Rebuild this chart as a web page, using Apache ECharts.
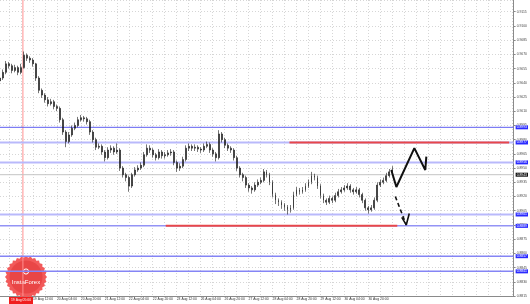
<!DOCTYPE html>
<html><head><meta charset="utf-8">
<script src="https://cdn.jsdelivr.net/npm/echarts@6/dist/echarts.min.js"></script>
<style>html,body{margin:0;padding:0;background:#fff}#c{width:530px;height:304px}</style>
</head><body><div id="c"></div>
<script>
// ---- data (prices in pips: 9045 = 0.9045; time in trading hours from 16 Aug 04:00) ----
const timeLabels = ['16 Aug 04:00','16 Aug 20:00','19 Aug 12:00','20 Aug 04:00','20 Aug 20:00','21 Aug 12:00','22 Aug 04:00','22 Aug 20:00','23 Aug 12:00','26 Aug 04:00','26 Aug 20:00','27 Aug 12:00','28 Aug 04:00','28 Aug 20:00','29 Aug 12:00','30 Aug 04:00','30 Aug 20:00'];
const firstBarHour = 10, barStep = 2;
const opens = [9042,9045,9051,9060,9058,9053,9056,9051,9056,9069, 9066,9064,9060,9045,9032,9027,9022,9018,9020,9015, 9013,9001,8988,8978,8985,8992,8995,9001,9003,9002, 8999,8988,8980,8972,8973,8967,8961,8969,8971,8967, 8969,8950,8943,8940,8931,8943,8948,8950,8953,8964, 8971,8969,8964,8961,8967,8963,8964,8966,8967,8956, 8950,8952,8959,8971,8973,8971,8972,8970,8969,8973, 8975,8969,8965,8961,8986,8980,8974,8971,8969,8961, 8950,8943,8940,8932,8929,8927,8932,8935,8937,8946, 8943,8935,8922,8916,8914,8911,8909,8906,8908,8922, 8927,8925,8927,8931,8935,8942,8940,8931,8921,8916, 8914,8918,8916,8921,8925,8927,8929,8931,8927,8925, 8927,8922,8916,8908,8906,8908,8916,8932,8935,8937,8942,8946];
const closes = [9045,9051,9060,9058,9053,9056,9051,9056,9069,9066, 9064,9060,9045,9032,9027,9022,9018,9020,9015,9013, 9001,8988,8978,8985,8992,8995,9001,9003,9002,8999, 8988,8980,8972,8973,8967,8961,8969,8971,8967,8969, 8950,8943,8940,8931,8943,8948,8950,8953,8964,8971, 8969,8964,8961,8967,8963,8964,8966,8967,8956,8950, 8952,8959,8971,8973,8971,8972,8970,8969,8973,8975, 8969,8965,8961,8986,8980,8974,8971,8969,8961,8950, 8943,8940,8932,8929,8927,8932,8935,8937,8946,8943, 8935,8922,8916,8914,8911,8909,8906,8908,8922,8927, 8925,8927,8931,8935,8942,8940,8931,8921,8916,8914, 8918,8916,8921,8925,8927,8929,8931,8927,8925,8927, 8922,8916,8908,8906,8908,8916,8932,8935,8937,8942,8946,8948];
const highs = [9048,9054,9063,9062,9060,9059,9058,9060,9073,9071, 9068,9066,9061,9047,9034,9029,9025,9023,9022,9017, 9015,9003,8990,8988,8995,8998,9004,9006,9005,9004, 9001,8990,8982,8976,8975,8969,8972,8974,8973,8976, 8971,8952,8945,8942,8945,8951,8953,8956,8967,8975, 8974,8971,8966,8970,8969,8967,8969,8970,8969,8958, 8955,8962,8974,8976,8975,8975,8974,8972,8976,8978, 8977,8971,8967,8990,8988,8982,8976,8973,8971,8963, 8952,8945,8942,8934,8931,8935,8938,8940,8949,8948, 8945,8937,8924,8918,8916,8913,8911,8911,8925,8930, 8929,8930,8934,8938,8946,8944,8942,8933,8923,8918, 8921,8920,8924,8928,8930,8932,8934,8933,8929,8930, 8929,8924,8918,8910,8911,8919,8935,8938,8940,8945,8949,8952];
const lows = [9039,9043,9049,9055,9050,9051,9048,9049,9055,9063, 9061,9057,9042,9029,9024,9019,9015,9016,9012,9010, 8998,8985,8972,8976,8983,8990,8993,8999,8999,8996, 8985,8977,8969,8970,8964,8957,8959,8966,8964,8965, 8947,8940,8936,8925,8929,8941,8946,8948,8951,8962, 8966,8961,8958,8959,8960,8960,8962,8963,8953,8946, 8947,8950,8957,8968,8968,8968,8967,8966,8967,8971, 8966,8962,8957,8959,8977,8971,8968,8966,8958,8947, 8940,8936,8929,8925,8923,8925,8930,8933,8935,8940, 8932,8919,8912,8910,8907,8905,8901,8903,8906,8920, 8922,8923,8925,8929,8933,8937,8928,8918,8913,8911, 8912,8913,8914,8919,8923,8925,8927,8924,8922,8923, 8919,8913,8905,8902,8904,8906,8914,8930,8933,8935,8940,8944];
const levelPrices = [8993, 8977, 8956, 8901, 8889, 8857, 8841];
const currentPrice = 8943;
const redSegments = [[203.3, 350, 8977], [120.7, 275.3, 8889]];
const vLineHour = 25.3;
const vLineLabel = '19 Aug 05:00';
const forecastUp = [[271.3,8948],[274.7,8930],[286.7,8971],[294,8948],[294.7,8962]];
const forecastDown = [[274,8920],[281.3,8890]];
const forecastDownHead = [[278.3,8898],[281.3,8890],[283.3,8902]];
const viewStartHour = 10, viewEndHour = 353;
const priceMin = 8815, priceMax = 9127.35;

// ---- chart ----
const el = document.getElementById('c');
const chart = echarts.init(el, null, {renderer:'canvas'});
const bars = closes.map((c,j)=>[firstBarHour+barStep*j, opens[j], c, lows[j], highs[j]]);
const hourCats = [];
for (let h=viewStartHour; h<=viewEndHour; h++) hourCats.push(String(h));
const fmt = v => (v/10000).toFixed(4);
const FONT = 'Liberation Sans';
const FS = 3.4;
const levelLine = [
  {color:'#5f5ff2', width:1},
  {color:'#b9b9fb', width:2},
  {color:'#b9b9fb', width:2},
  {color:'#b9b9fb', width:2},
  {color:'#9393f5', width:1.5},
  {color:'#8585f5', width:1.5},
  {color:'#8585f5', width:1.5}
];
const boxLabel = (bg) => ({show:true, distance:2, color:'#fff', backgroundColor:bg, fontSize:FS, fontFamily:FONT, padding:[1,1,0,1]});
const levelSeries = levelPrices.map((p,k)=>({
  type:'line', xAxisIndex:0, data:[[viewStartHour,p],[viewEndHour,p]], showSymbol:false, silent:true, z:3,
  lineStyle:{color:levelLine[k].color, width:levelLine[k].width},
  endLabel:Object.assign(boxLabel('#2a2aff'), {formatter:fmt(p)})
}));
levelSeries.push({type:'line', xAxisIndex:0, data:[[viewStartHour,currentPrice],[viewEndHour,currentPrice]], showSymbol:false, silent:true, z:3,
  lineStyle:{color:'#c4c4c4', width:1}, endLabel:Object.assign(boxLabel('#111'), {formatter:fmt(currentPrice)})});
const redSeries = redSegments.map(s=>({type:'line', xAxisIndex:0, data:[[s[0],s[2]],[s[1],s[2]]], showSymbol:false, silent:true, z:4,
  lineStyle:{color:'#e8474a', width:2}}));
const vSeries = {type:'line', xAxisIndex:0, data:[[vLineHour,priceMin],[vLineHour,priceMax]], showSymbol:false, silent:true, z:3,
  lineStyle:{color:'#ff9090', width:1}};

// logo badge polygon (decoration)
const badge = [];
for (let k=0;k<56;k++){ const a=k*Math.PI/28, r=(k%2?19.3:21); badge.push([26+r*Math.cos(a), 277+r*Math.sin(a)]); }

const gridLine = {show:true, lineStyle:{color:'#d6d6d6', type:[1,2], width:1}};
chart.setOption({
  animation:false,
  grid:{left:0, right:15.5, top:0, bottom:8},
  xAxis:[
    {type:'value', min:viewStartHour, max:viewEndHour, show:false, splitLine:{show:false}},
    {type:'category', data:hourCats, boundaryGap:false, position:'bottom',
      axisLine:{show:true, onZero:false, lineStyle:{color:'#8a8a8a', width:1}},
      axisTick:{show:false},
      splitLine:{show:true, interval:(idx,val)=>(+val)%8===0, lineStyle:gridLine.lineStyle},
      axisLabel:{show:true, align:'left', margin:2, fontSize:FS, fontFamily:FONT, color:'#333',
        interval:(idx,val)=>(+val)%16===0,
        formatter:val=>{ const k=(+val)/16; return k<timeLabels.length? timeLabels[k] : ''; }}
    }
  ],
  yAxis:{type:'value', position:'right', min:priceMin, max:priceMax, interval:15, scale:true,
    axisLine:{show:true, lineStyle:{color:'#8a8a8a', width:1}},
    axisTick:{show:true, length:2, lineStyle:{color:'#8a8a8a'}},
    splitLine:gridLine,
    axisLabel:{show:true, margin:3, fontSize:FS, fontFamily:FONT, color:'#444', showMaxLabel:false, showMinLabel:true, formatter:fmt}
  },
  series:[vSeries].concat(levelSeries, redSeries, [
    {type:'candlestick', xAxisIndex:0, data:bars, encode:{x:0, y:[1,2,3,4]}, barWidth:1.4, z:5,
      itemStyle:{color:'#1a1a1a', color0:'#1a1a1a', borderColor:'#1a1a1a', borderColor0:'#1a1a1a', borderWidth:0.6}},
    {type:'line', xAxisIndex:0, data:forecastUp, showSymbol:false, z:6, lineStyle:{color:'#111', width:2}},
    {type:'line', xAxisIndex:0, data:forecastDown, showSymbol:false, z:6, lineStyle:{color:'#111', width:1.6, type:[4,3]}},
    {type:'line', xAxisIndex:0, data:forecastDownHead, showSymbol:false, z:6, lineStyle:{color:'#111', width:1.6}}
  ]),
  graphic:[
    {type:'polygon', z:1, shape:{points:badge}, style:{fill:'#f25a5a'}},
    {type:'circle', z:1, shape:{cx:26, cy:277, r:16.5}, style:{fill:'#e94646'}},
    {type:'circle', z:1, shape:{cx:26, cy:271.5, r:2.6}, style:{fill:'none', stroke:'#fff', lineWidth:1}},
    {type:'text', z:1, x:26, y:282, style:{text:'InstaForex', fill:'#fff', fontSize:6, fontFamily:FONT, align:'center', verticalAlign:'middle'}},
    {type:'rect', z:100, shape:{x:9, y:297, width:24, height:7}, style:{fill:'#f01e1e'}},
    {type:'text', z:101, x:21, y:300.5, style:{text:vLineLabel, fill:'#fff', fontSize:FS, fontFamily:FONT, align:'center', verticalAlign:'middle'}}
  ]
});
</script></body></html>
